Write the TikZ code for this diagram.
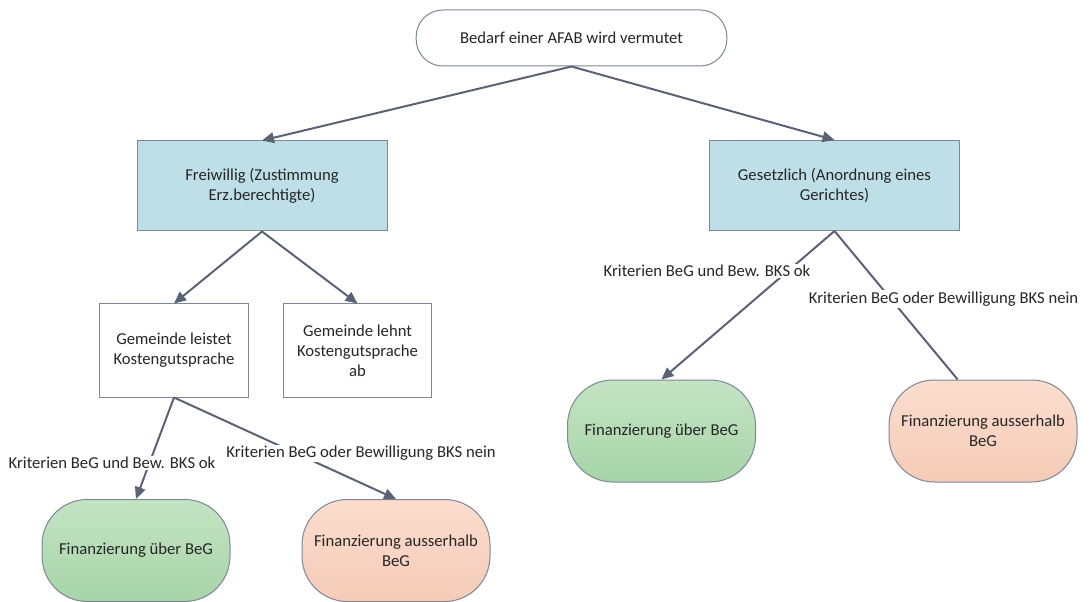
\documentclass[tikz,border=0pt]{standalone}
\usepackage{fontspec}
\setmainfont{Carlito}
\usetikzlibrary{arrows.meta}

\definecolor{linegray}{RGB}{90,98,118}
\definecolor{boxgray}{RGB}{125,135,152}
\definecolor{textgray}{RGB}{38,38,38}
\definecolor{bluefill}{RGB}{190,223,231}
\definecolor{greentop}{RGB}{196,228,196}
\definecolor{greenbot}{RGB}{166,212,167}
\definecolor{orangetop}{RGB}{251,221,206}
\definecolor{orangebot}{RGB}{245,203,183}

\tikzset{every picture/.style={line width=0.75pt},
  every node/.style={font=\fontsize{12.5pt}{15pt}\selectfont, text=textgray, align=center},
  startbox/.style={draw=boxgray, fill=white, rounded corners=20pt, minimum width=233pt, minimum height=42pt},
  bluebox/.style={draw=boxgray, fill=bluefill, minimum width=187.5pt, minimum height=67.5pt},
  whitebox/.style={draw=boxgray, fill=white, minimum width=111.5pt, minimum height=69.75pt},
  greenend/.style={draw=boxgray, top color=greentop, bottom color=greenbot, rounded corners=34pt, minimum width=141pt, minimum height=76.5pt},
  orangeend/.style={draw=boxgray, top color=orangetop, bottom color=orangebot, rounded corners=34pt, minimum width=141pt, minimum height=76.5pt},
  conn/.style={draw=linegray, line width=1.5pt, -{Triangle[length=9pt,width=8pt]}},
  plainconn/.style={draw=linegray, line width=1.5pt},
  edgelabel/.style={fill=white, inner sep=1pt}
}

\begin{document}
\begin{tikzpicture}[x=0.75pt,y=0.75pt,yscale=-1,xscale=1]
\useasboundingbox (0,0) rectangle (1092,602);

% Start
\node [startbox] (start) at (571.5,38) {Bedarf einer AFAB wird vermutet};
% Blue boxes
\node [bluebox] (frei) at (262,186) {Freiwillig (Zustimmung\\Erz.berechtigte)};
\node [bluebox] (gesetz) at (834.5,185.5) {Gesetzlich (Anordnung eines\\Gerichtes)};
% Gemeinde
\node [whitebox] (leistet) at (174,350.5) {Gemeinde leistet\\Kostengutsprache};
\node [whitebox] (lehnt) at (357.5,350.5) {Gemeinde lehnt\\Kostengutsprache\\ab};
% Finanzierung
\node [greenend] (finL) at (136,550.5) {Finanzierung über BeG};
\node [orangeend] (ausL) at (396,550.5) {Finanzierung ausserhalb\\BeG};
\node [greenend] (finR) at (661.5,431) {Finanzierung über BeG};
\node [orangeend] (ausR) at (983,431) {Finanzierung ausserhalb\\BeG};

% Connectors
\draw [conn] (start.south) -- (frei.north);
\draw [conn] (start.south) -- (gesetz.north);
\draw [conn] (frei.south) -- (leistet.north);
\draw [conn] (frei.south) -- (lehnt.north);
\draw [conn] (leistet.south) -- (finL.north);
\draw [conn] (leistet.south) -- (ausL.north);
\draw [conn] (gesetz.south) -- (finR.north);
\draw [plainconn] (gesetz.south) -- ([xshift=-19pt]ausR.north);

% Labels
\node [edgelabel] (okL) at (112,463) {Kriterien BeG und Bew. BKS ok};
\node [edgelabel] (neinL) at (361,453.5) {Kriterien BeG oder Bewilligung BKS nein};
\node [edgelabel] (okR) at (707,271) {Kriterien BeG und Bew. BKS ok};
\node [edgelabel] (neinR) at (943.5,299) {Kriterien BeG oder Bewilligung BKS nein};

\end{tikzpicture}
\end{document}
